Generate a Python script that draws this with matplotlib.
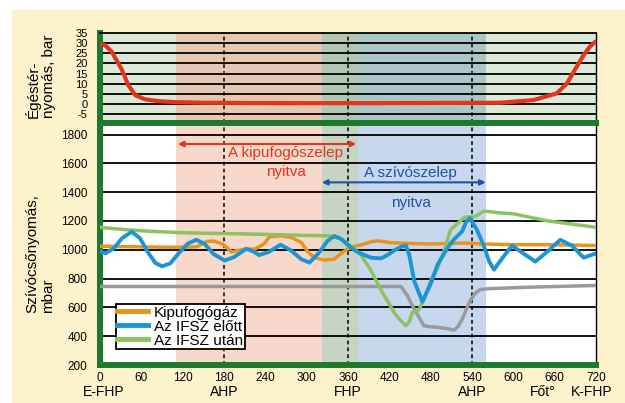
import matplotlib.pyplot as plt
from matplotlib.patches import Rectangle
from matplotlib.transforms import blended_transform_factory

plt.rcParams['font.family'] = ['Liberation Sans', 'DejaVu Sans']
plt.rcParams['axes.unicode_minus'] = False

# Égéstér-nyomás (bar) a forgattyúszög függvényében
cyl_deg = [0, 7, 17, 32, 41, 51, 65, 85, 109, 150, 200, 300, 400, 500, 581,
           629, 663, 678, 692, 702, 711, 719]
cyl_bar = [29.5, 29.1, 25.8, 16.7, 9.3, 4.4, 2.3, 1.4, 0.9, 0.6, 0.5, 0.4, 0.4,
           0.5, 0.6, 1.9, 5.2, 10.2, 18.4, 24.1, 28.2, 30.7]

# Kipufogógáz (mbar)
exh_deg = [0, 30, 60, 90, 120, 140, 148, 155, 165, 178, 191, 200, 210, 225, 238,
           246, 263, 278, 292, 302, 311, 326, 340, 350, 360, 370, 380, 395, 405,
           420, 440, 480, 528, 558, 600, 650, 720]
exh_mbar = [1025, 1022, 1020, 1018, 1018, 1020, 1040, 1058, 1060, 1040, 985, 995,
            1005, 1005, 1040, 1090, 1096, 1085, 1051, 985, 945, 929, 935, 975,
            1007, 1025, 1035, 1058, 1062, 1050, 1045, 1040, 1047, 1040, 1035,
            1035, 1030]

# Az IFSZ előtt (mbar)
pre_deg = [0, 8, 20, 32, 46, 58, 70, 80, 90, 102, 115, 128, 140, 152, 165, 181,
           195, 212, 222, 231, 245, 262, 277, 292, 304, 318, 330, 340, 350, 360,
           370, 379, 393, 408, 418, 427, 437, 444, 449, 456, 468, 480, 490, 504,
           514, 526, 531, 537, 547, 557, 565, 572, 582, 598, 615, 632, 649, 668,
           685, 702, 720]
pre_mbar = [990, 975, 1010, 1080, 1125, 1080, 980, 910, 885, 905, 980, 1045, 1069,
            1040, 970, 925, 950, 1007, 990, 963, 985, 1035, 996, 935, 911, 980,
            1060, 1096, 1075, 1033, 995, 973, 945, 940, 965, 996, 1020, 1029,
            963, 785, 640, 763, 896, 1010, 1073, 1129, 1190, 1220, 1140, 1029,
            918, 862, 929, 1029, 973, 918, 985, 1069, 1029, 945, 975]

# Az IFSZ után (mbar)
post_deg = [0, 35, 70, 110, 150, 200, 270, 335, 350, 360, 370, 379, 394, 408, 418,
            427, 437, 444, 449, 453, 463, 470, 480, 490, 500, 509, 515, 529, 545,
            557, 570, 580, 601, 650, 690, 720]
post_mbar = [1156, 1140, 1129, 1120, 1115, 1111, 1103, 1096, 1075, 1040, 1000, 963,
             851, 718, 640, 562, 505, 473, 500, 562, 585, 651, 785, 874, 1000,
             1140, 1165, 1225, 1232, 1269, 1262, 1256, 1249, 1200, 1175, 1156]

# szürke görbe (jelmagyarázat nélkül)
gray_deg = [0, 100, 200, 300, 437, 445, 454, 462, 470, 480, 490, 505, 514, 520,
            526, 532, 538, 545, 552, 564, 622, 720]
gray_mbar = [745, 745, 745, 745, 745, 690, 607, 540, 473, 465, 462, 452, 442, 470,
             520, 590, 651, 700, 724, 730, 740, 752]

x_ticks = list(range(0, 721, 60))
top_ticks = list(range(-5, 36, 5))
bot_ticks = list(range(200, 1801, 200))
event_pos = [6, 180, 360, 540, 642, 714]
event_labels = ['E-FHP', 'AHP', 'FHP', 'AHP', 'Főt°', 'K-FHP']

W, H = 625, 403
green = '#1d7a2c'
red = '#e2361c'
blue_txt = '#1d55a5'


def px_box(l, t, r, b):
    return [l / W, 1 - b / H, (r - l) / W, (b - t) / H]


fig = plt.figure(figsize=(W / 100, H / 100), dpi=100)
fig.patches.append(Rectangle((12 / W, 0), (W - 12) / W, (H - 10) / H,
                             transform=fig.transFigure, color='#fdf2cc', zorder=-10))

# 1. Felső panel: égéstér-nyomás
ax1 = fig.add_axes(px_box(100, 33, 596, 123))
ax1.set_facecolor('#dde9d7')
ax1.axvspan(110, 322, color='#e6c7b1', lw=0, zorder=0.5)
ax1.axvspan(322, 374, color='#b1c7b3', lw=0, zorder=0.5)
ax1.axvspan(374, 560, color='#abc6c6', lw=0, zorder=0.5)
for v in top_ticks[:-1]:
    ax1.axhline(v, color='black', lw=1.3, zorder=1)
ax1.plot(cyl_deg, cyl_bar, color=red, lw=3, zorder=3, solid_capstyle='round')
ax1.set_xlim(0, 720)
ax1.set_ylim(-9.4, 35)
ax1.set_xticks([])
ax1.set_yticks(top_ticks)
ax1.tick_params(length=0, labelsize=8, pad=9)

# 2. Alsó panel: szívócső-nyomás
ax2 = fig.add_axes(px_box(100, 123, 596, 365))
ax2.set_facecolor('white')
ax2.axvspan(110, 322, color='#f7d8cb', lw=0, zorder=0.5)
ax2.axvspan(322, 374, color='#c6d5c3', lw=0, zorder=0.5)
ax2.axvspan(374, 560, color='#c7d7ed', lw=0, zorder=0.5)
for v in bot_ticks[1:]:
    ax2.axhline(v, color='black', lw=1.3, zorder=1)

ax2.plot(gray_deg, gray_mbar, color='#9a9a9a', lw=2.5, zorder=3)
ax2.plot(exh_deg, exh_mbar, color='#e8931e', lw=2.5, zorder=3, label='Kipufogógáz')
ax2.plot(post_deg, post_mbar, color='#8dc262', lw=2.5, zorder=3, label='Az IFSZ után')
ax2.plot(pre_deg, pre_mbar, color='#1b96d3', lw=2.8, zorder=3.5, label='Az IFSZ előtt')

ax2.set_xlim(0, 720)
ax2.set_ylim(200, 1880)
ax2.set_xticks(x_ticks)
ax2.set_yticks(bot_ticks)
ax2.tick_params(axis='y', length=0, labelsize=8.5, pad=9)
ax2.tick_params(axis='x', length=0, labelsize=8.5, pad=5)

# szaggatott függőleges vonalak (AHP, FHP, AHP)
for ax in (ax1, ax2):
    for d in (180, 360, 540):
        ax.axvline(d, color='black', lw=1.1, ls=(0, (2.5, 2)), zorder=1.5)
    ax.spines['left'].set_color(green)
    ax.spines['left'].set_linewidth(4.3)
    ax.spines['right'].set_color('black')
    ax.spines['right'].set_linewidth(1)

ax1.spines['top'].set_linewidth(1.3)
ax1.spines['bottom'].set_color(green)
ax1.spines['bottom'].set_linewidth(4.3)
ax2.spines['top'].set_color(green)
ax2.spines['top'].set_linewidth(4.3)
ax2.spines['bottom'].set_color(green)
ax2.spines['bottom'].set_linewidth(4.3)

# szelep nyitva nyilak
ax2.annotate('', xy=(113, 1734), xytext=(372, 1734),
             arrowprops=dict(arrowstyle='<|-|>', color=red, lw=1.5,
                             mutation_scale=8, shrinkA=0, shrinkB=0), zorder=4)
ax2.text(270, 1672, 'A kipufogószelep', color=red, fontsize=11, ha='center', va='center', zorder=4)
ax2.text(270, 1542, 'nyitva', color=red, fontsize=11, ha='center', va='center', zorder=4)
ax2.annotate('', xy=(322, 1468), xytext=(560, 1468),
             arrowprops=dict(arrowstyle='<|-|>', color=blue_txt, lw=1.5,
                             mutation_scale=8, shrinkA=0, shrinkB=0), zorder=4)
ax2.text(451, 1533, 'A szívószelep', color=blue_txt, fontsize=11, ha='center', va='center', zorder=4)
ax2.text(451, 1325, 'nyitva', color=blue_txt, fontsize=11, ha='center', va='center', zorder=4)

# jelmagyarázat
handles, labels = ax2.get_legend_handles_labels()
order = [0, 2, 1]
leg = ax2.legend([handles[i] for i in order], [labels[i] for i in order],
                 loc='lower left', bbox_to_anchor=(0.032, 0.066), fontsize=11,
                 frameon=True, fancybox=False, framealpha=1, edgecolor='black',
                 borderpad=0.1, labelspacing=0, handlelength=2.0, handletextpad=0.4,
                 borderaxespad=0)
leg.get_frame().set_linewidth(1.3)
for line in leg.get_lines():
    line.set_linewidth(3.5)
leg.set_zorder(5)

# események a vízszintes tengely alatt
trans = blended_transform_factory(ax2.transData, fig.transFigure)
for pos, lab in zip(event_pos, event_labels):
    fig.text(pos, 1 - 392 / H, lab, transform=trans, ha='center', va='center', fontsize=10)

# tengelyfeliratok
fig.text(40 / W, 1 - 118 / H, 'Égéstér-\nnyomás, bar', rotation=90, ha='center',
         va='bottom', multialignment='left', fontsize=11, linespacing=1.1)
fig.text(40 / W, 1 - 313 / H, 'Szívócsőnyomás,\nmbar', rotation=90, ha='center',
         va='bottom', multialignment='left', fontsize=11, linespacing=1.1)

plt.savefig('out.png', dpi=100)
plt.close()
